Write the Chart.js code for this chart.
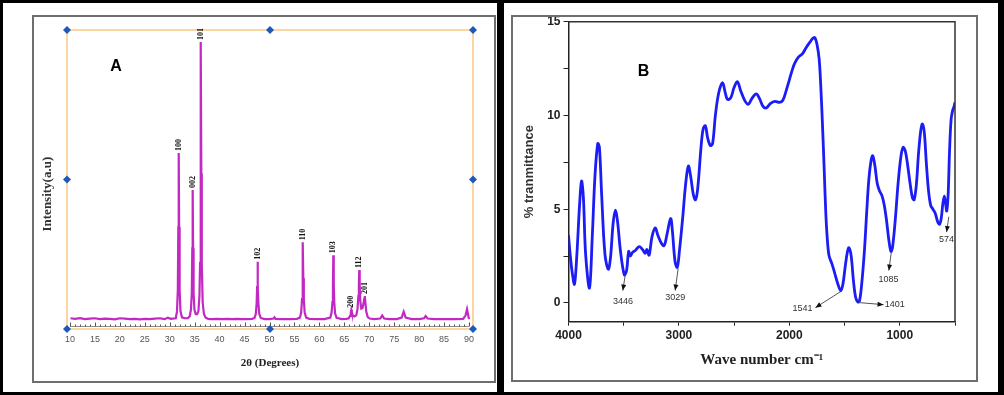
<!DOCTYPE html>
<html>
<head>
<meta charset="utf-8">
<script src="https://cdn.jsdelivr.net/npm/chart.js"></script>
<style>
body { margin: 0; background: #fff; }
#page { position: relative; width: 1004px; height: 395px; overflow: hidden; background: #fff; }
.box { position: absolute; box-sizing: border-box; }
canvas { position: absolute; }
</style>
</head>
<body>
<div id="page">
  <canvas id="xrdChart" width="461" height="363" style="left:34px;top:17px"></canvas>
  <canvas id="ftirChart" width="463" height="370" style="left:513px;top:10px"></canvas>
  <div class="box" style="left:0;top:0;width:1004px;height:395px;border:3px solid #000;border-right-width:6px"></div>
  <div class="box" style="left:497px;top:0;width:7px;height:395px;background:#000"></div>
  <div class="box" style="left:32px;top:15px;width:464px;height:368px;border:2px solid #6e6e6e"></div>
  <div class="box" style="left:511px;top:15px;width:467px;height:367px;border:2px solid #6e6e6e"></div>
</div>
<script>
// ---- panel A : XRD pattern ----
const twoTheta = [10.1, 11, 12, 13, 14, 15, 16, 17, 18, 19, 20, 21, 22, 23, 24, 25, 26, 27, 28, 29, 29.6, 30.2,
  31.2, 31.45, 31.62, 31.72, 31.8, 31.88, 31.98, 32.15, 32.45, 33.0, 33.6,
  34.0, 34.25, 34.42, 34.52, 34.6, 34.68, 34.78, 34.95, 35.2, 35.5,
  35.75, 35.95, 36.08, 36.17, 36.25, 36.33, 36.42, 36.6, 36.85, 37.2, 37.7,
  38.5, 39.5, 40.5, 41.5, 42.5, 43.5, 44.5, 45.5, 46.5,
  47.0, 47.25, 47.42, 47.52, 47.6, 47.68, 47.78, 47.95, 48.25, 49.0, 50.0, 50.8, 51.0, 51.2, 52.5, 54, 55.5,
  56.1, 56.35, 56.52, 56.62, 56.7, 56.78, 56.88, 57.05, 57.35, 58, 59.5, 61,
  62.2, 62.45, 62.62, 62.72, 62.8, 62.88, 62.98, 63.15, 63.45, 64.5, 65.4,
  65.9, 66.15, 66.3, 66.4, 66.5, 66.7, 67.0, 67.4, 67.65, 67.82, 67.92, 68.0, 68.08, 68.2, 68.4, 68.65, 68.85,
  68.98, 69.1, 69.22, 69.4, 69.7, 70.1, 71,
  72.2, 72.6, 73.0, 74, 75.5, 76.5, 76.9, 77.3, 78.5, 80, 81.0, 81.3, 81.7, 83, 85, 87, 88.8, 89.3, 89.6, 89.85, 90.0]
const intensity = [3.6, 3.4, 3.6, 3.3, 3.5, 3.6, 3.3, 3.5, 3.4, 3.2, 3.6, 3.5, 3.3, 3.4, 3.2, 3.4, 3.3, 3.5, 3.6, 3.3, 3.8, 3.4,
  3.6, 5.8, 13, 34, 58.9, 34, 13, 6, 3.9, 3.6, 3.6,
  4.2, 6.5, 12, 27, 46.5, 27, 12, 6.5, 5, 5.0,
  6, 11, 22, 52, 96, 52, 22, 9, 5, 3.8, 3.4,
  3.3, 3.4, 3.3, 3.4, 3.3, 3.4, 3.3, 3.3, 3.4,
  3.7, 5, 8.5, 14, 22.5, 14, 8.5, 5, 3.7, 3.3, 3.3, 3.5, 3.9, 3.4, 3.3, 3.3, 3.4,
  3.8, 5.5, 10, 17, 29, 17, 10, 5.5, 3.8, 3.4, 3.3, 3.3,
  3.8, 5.5, 9, 15, 24.7, 15, 9, 5.2, 3.7, 3.3, 3.4,
  3.6, 4.4, 5.6, 6.4, 5.6, 4.5, 4.2, 4.6, 6.8, 11, 15, 19.7, 15, 9.5, 6.8, 7.0, 8.5,
  10, 11, 9, 5.8, 4.0, 3.5, 3.3,
  3.5, 4.5, 3.5, 3.3, 3.3, 3.8, 5.8, 3.8, 3.3, 3.3, 3.6, 4.3, 3.5, 3.3, 3.3, 3.3, 3.4, 4.5, 6.6, 4.5, 3.3]
const xrdTicks = [10, 15, 20, 25, 30, 35, 40, 45, 50, 55, 60, 65, 70, 75, 80, 85, 90]
const peakHkl = ['100', '002', '101', '102', '110', '103', '200', '112', '201']
const peakPos = [31.8, 34.6, 36.25, 47.6, 56.7, 62.8, 66.4, 68.0, 69.1]
const peakTop = [58.9, 46.5, 96, 22.5, 29, 24.7, 6.4, 19.7, 11]

// ---- panel B : FTIR spectrum ----
const waveNumber = [4000, 3985, 3966, 3946, 3925, 3900, 3882, 3865, 3845, 3810, 3785, 3760, 3735, 3720, 3700, 3670, 3640,
  3620, 3595, 3574, 3555, 3530, 3495, 3475, 3455, 3440, 3420, 3395, 3360, 3330, 3305, 3290, 3270, 3245, 3215, 3190,
  3160, 3135, 3110, 3075, 3060, 3035, 3015, 2995, 2965, 2940, 2915, 2895, 2870, 2850, 2830, 2800, 2780, 2760, 2740,
  2715, 2695, 2670, 2640, 2605, 2580, 2560, 2530, 2500, 2470, 2440, 2400, 2370, 2340, 2300, 2270, 2240, 2210, 2170,
  2130, 2090, 2060, 2030, 2000, 1970, 1950, 1920, 1880, 1850, 1815, 1790, 1770, 1750, 1730, 1715, 1700, 1685, 1670,
  1655, 1640, 1615, 1590, 1560, 1535, 1515, 1495, 1475, 1460, 1440, 1420, 1400, 1380, 1365, 1345, 1320, 1300, 1280,
  1260, 1245, 1225, 1205, 1185, 1160, 1140, 1120, 1100, 1080, 1065, 1040, 1015, 990, 970, 950, 930, 905, 885, 870,
  850, 830, 810, 795, 778, 760, 740, 720, 700, 680, 655, 640, 625, 610, 597, 585, 575, 562, 550, 535, 520, 510, 500]
const transmittance = [3.6, 2.6, 1.6, 1.0, 2.5, 5.2, 6.5, 5.6, 2.6, 0.8, 3.5, 6.8, 8.5, 8.3, 5.8, 2.6, 1.8,
  2.4, 4.3, 4.95, 4.3, 2.8, 1.5, 1.7, 2.75, 2.5, 2.7, 2.8, 3.0, 2.85, 2.65, 2.85, 2.55, 3.5, 4.0, 3.6,
  3.2, 3.05, 3.6, 4.5, 3.9, 2.2, 1.9, 2.8, 4.6, 6.3, 7.3, 6.8, 5.8, 5.5, 6.1, 8.3, 9.3, 9.45, 8.8,
  8.4, 8.5, 10.0, 11.2, 11.75, 11.2, 10.85, 10.95, 11.5, 11.8, 11.3, 10.75, 10.6, 10.9, 11.15, 10.9, 10.5, 10.4, 10.65,
  10.75, 10.7, 10.8, 11.3, 11.9, 12.5, 12.8, 13.1, 13.3, 13.6, 13.9, 14.1, 14.15, 13.8, 13.0, 11.5, 9.5, 7.2, 4.8,
  3.3, 2.5, 2.1, 1.6, 1.0, 0.65, 1.0, 1.9, 2.7, 2.95, 2.5, 1.2, 0.3, 0.05, 0.1, 1.0, 2.8, 4.8, 6.6,
  7.6, 7.85, 7.3, 6.4, 6.0, 5.7, 5.2, 4.4, 3.4, 2.75, 3.0, 4.5, 6.4, 7.8, 8.3, 8.1, 7.4, 6.3, 5.6, 5.5,
  6.3, 8.0, 9.2, 9.55, 9.1, 7.5, 6.0, 5.2, 5.0, 4.8, 4.3, 4.2, 4.5, 5.3, 5.7, 5.3, 4.9, 5.8, 8.0, 9.8, 10.3, 10.45, 10.7]
const bandLabels = ['3446', '3029', '1541', '1401', '1085', '574']
// arrow start on the curve, arrow tip, label centre (wavenumber, %T)
const bandFrom = [[3487, 1.46], [3007, 1.84], [1537, 0.6], [1374, 0.02], [1077, 2.7], [556, 4.6]]
const bandTip = [[3508, 0.66], [3034, 0.66], [1764, -0.25], [1147, -0.09], [1099, 1.73], [576, 3.78]]
const bandText = [[3506, 0.1], [3034, 0.28], [1882, -0.3], [1045, -0.09], [1102, 1.27], [576, 3.37]]

const serif = '"Liberation Serif", "Times New Roman", serif'
const sans = '"Liberation Sans", Arial, sans-serif'

const toPoints = (xs, ys) => xs.map((v, i) => ({ x: v, y: ys[i] }))

const drawDiamond = (ctx, x, y) => {
  ctx.beginPath()
  ctx.moveTo(x, y - 4)
  ctx.lineTo(x + 4, y)
  ctx.lineTo(x, y + 4)
  ctx.lineTo(x - 4, y)
  ctx.closePath()
  ctx.fill()
}

const drawArrow = (ctx, x1, y1, x2, y2) => {
  ctx.beginPath()
  ctx.moveTo(x1, y1)
  ctx.lineTo(x2, y2)
  ctx.stroke()
  const ang = Math.atan2(y2 - y1, x2 - x1)
  ctx.beginPath()
  ctx.moveTo(x2, y2)
  ctx.lineTo(x2 - 6 * Math.cos(ang) + 2.5 * Math.sin(ang), y2 - 6 * Math.sin(ang) - 2.5 * Math.cos(ang))
  ctx.lineTo(x2 - 6 * Math.cos(ang) - 2.5 * Math.sin(ang), y2 - 6 * Math.sin(ang) + 2.5 * Math.cos(ang))
  ctx.closePath()
  ctx.fill()
}

const xrdDecor = {
  id: 'xrdDecor',
  beforeDatasetsDraw(chart) {
    const { ctx, chartArea: a, scales: { x } } = chart
    ctx.save()
    ctx.strokeStyle = '#fbd5a2'
    ctx.lineWidth = 2
    ctx.strokeRect(a.left, a.top, a.right - a.left, a.bottom - a.top)
    const axisY = a.bottom - 2.5
    ctx.lineWidth = 1
    ctx.strokeStyle = '#8c8c8c'
    ctx.beginPath()
    ctx.moveTo(x.getPixelForValue(10), axisY)
    ctx.lineTo(x.getPixelForValue(90), axisY)
    ctx.stroke()
    ctx.strokeStyle = '#555'
    for (let v = 10; v <= 90; v++) {
      const px = Math.round(x.getPixelForValue(v)) + 0.5
      ctx.beginPath()
      ctx.moveTo(px, axisY)
      ctx.lineTo(px, axisY - (v % 5 === 0 ? 4 : 2))
      ctx.stroke()
    }
    ctx.restore()
  },
  afterDraw(chart) {
    const { ctx, chartArea: a, scales: { x, y } } = chart
    ctx.save()
    ctx.fillStyle = '#1f58b8'
    const midX = (a.left + a.right) / 2
    const midY = (a.top + a.bottom) / 2
    ;[[a.left, a.top], [midX, a.top], [a.right, a.top], [a.left, midY], [a.right, midY],
      [a.left, a.bottom], [midX, a.bottom], [a.right, a.bottom]].forEach(([px, py]) => drawDiamond(ctx, px, py))

    ctx.fillStyle = '#111'
    ctx.font = 'bold 8px ' + serif
    ctx.textBaseline = 'middle'
    ctx.textAlign = 'left'
    peakHkl.forEach((hkl, i) => {
      ctx.save()
      ctx.translate(x.getPixelForValue(peakPos[i]), y.getPixelForValue(peakTop[i]) - 2)
      ctx.rotate(-Math.PI / 2)
      ctx.fillText(hkl, 0, 0)
      ctx.restore()
    })

    ctx.font = 'bold 16px ' + sans
    ctx.textAlign = 'center'
    ctx.fillStyle = '#000'
    ctx.fillText('A', a.left + 49, a.top + 37)
    ctx.restore()
  }
}

const ftirDecor = {
  id: 'ftirDecor',
  afterDraw(chart) {
    const { ctx, chartArea: a, scales: { x, y } } = chart
    ctx.save()
    ctx.strokeStyle = '#333'
    ctx.lineWidth = 1.5
    ctx.beginPath()
    ctx.moveTo(a.left, a.top)
    ctx.lineTo(a.right, a.top)
    ctx.lineTo(a.right, a.bottom)
    ctx.stroke()

    ctx.strokeStyle = '#555'
    ctx.fillStyle = '#111'
    ctx.lineWidth = 1
    bandLabels.forEach((lbl, i) => {
      drawArrow(ctx,
        x.getPixelForValue(bandFrom[i][0]), y.getPixelForValue(bandFrom[i][1]),
        x.getPixelForValue(bandTip[i][0]), y.getPixelForValue(bandTip[i][1]))
    })
    ctx.fillStyle = '#333'
    ctx.font = '9px ' + sans
    ctx.textAlign = 'center'
    ctx.textBaseline = 'middle'
    bandLabels.forEach((lbl, i) => {
      ctx.fillText(lbl, x.getPixelForValue(bandText[i][0]), y.getPixelForValue(bandText[i][1]))
    })

    ctx.fillStyle = '#000'
    ctx.font = 'bold 16px ' + sans
    ctx.fillText('B', a.left + 75, a.top + 50)
    ctx.restore()
  }
}

const xrdChart = new Chart(document.querySelector('#xrdChart'), {
  type: 'line',
  data: {
    datasets: [{
      data: toPoints(twoTheta, intensity),
      borderColor: '#c228c2',
      borderWidth: 2.2,
      pointRadius: 0,
      tension: 0
    }]
  },
  options: {
    responsive: false,
    animation: false,
    layout: { padding: { top: 13, right: 22, bottom: 0, left: 0 } },
    plugins: { legend: { display: false }, tooltip: { enabled: false } },
    scales: {
      x: {
        type: 'linear',
        min: 9.4,
        max: 90.8,
        afterBuildTicks: (scale) => { scale.ticks = xrdTicks.map(v => ({ value: v })) },
        afterFit: (scale) => { scale.height = 51 },
        grid: { display: false, drawTicks: false },
        border: { display: false },
        ticks: { padding: 5, color: '#555', font: { family: sans, size: 9 }, maxRotation: 0 },
        title: { display: true, text: '2θ (Degrees)', color: '#222', font: { family: serif, size: 11, weight: 'bold' }, padding: { top: 0, bottom: 10 } }
      },
      y: {
        min: 0,
        max: 100,
        afterFit: (scale) => { scale.width = 33 },
        grid: { display: false, drawTicks: false },
        border: { display: false },
        ticks: { display: false },
        title: { display: true, text: 'Intensity(a.u)         ', color: '#333', font: { family: serif, size: 13, weight: 'bold' }, padding: { top: 6, bottom: 0 } }
      }
    }
  },
  plugins: [xrdDecor]
})

const ftirChart = new Chart(document.querySelector('#ftirChart'), {
  type: 'line',
  data: {
    datasets: [{
      data: toPoints(waveNumber, transmittance),
      borderColor: '#1c1cf5',
      borderWidth: 2.8,
      pointRadius: 0,
      tension: 0.35
    }]
  },
  options: {
    responsive: false,
    animation: false,
    layout: { padding: { top: 11.7, right: 21, bottom: 0, left: 0 } },
    plugins: { legend: { display: false }, tooltip: { enabled: false } },
    scales: {
      x: {
        type: 'linear',
        reverse: true,
        min: 500,
        max: 4000,
        afterFit: (scale) => { scale.height = 58.3 },
        grid: { drawOnChartArea: false, drawTicks: true, tickLength: 4, color: '#222' },
        border: { display: true, color: '#222', width: 1.5 },
        ticks: {
          stepSize: 500,
          padding: 3,
          color: '#222',
          maxRotation: 0,
          autoSkip: false,
          font: { family: sans, size: 12, weight: 'bold' },
          callback: (v) => (v % 1000 === 0 ? v : '')
        },
        title: { display: true, text: 'Wave number cm⁻¹', color: '#222', font: { family: serif, size: 15, weight: 'bold' }, padding: { top: 0, bottom: 11 } }
      },
      y: {
        min: -1,
        max: 15,
        afterFit: (scale) => { scale.width = 55.5 },
        grid: { drawOnChartArea: false, drawTicks: true, tickLength: 5, color: '#222' },
        border: { display: true, color: '#222', width: 1.5 },
        ticks: {
          stepSize: 2.5,
          includeBounds: false,
          padding: 3,
          color: '#222',
          autoSkip: false,
          font: { family: sans, size: 12, weight: 'bold' },
          callback: (v) => (v % 5 === 0 ? v : '')
        },
        title: { display: true, text: '% tranmittance', color: '#333', font: { family: sans, size: 13, weight: 'bold' }, padding: { top: 9, bottom: 0 } }
      }
    }
  },
  plugins: [ftirDecor]
})
</script>
</body>
</html>
